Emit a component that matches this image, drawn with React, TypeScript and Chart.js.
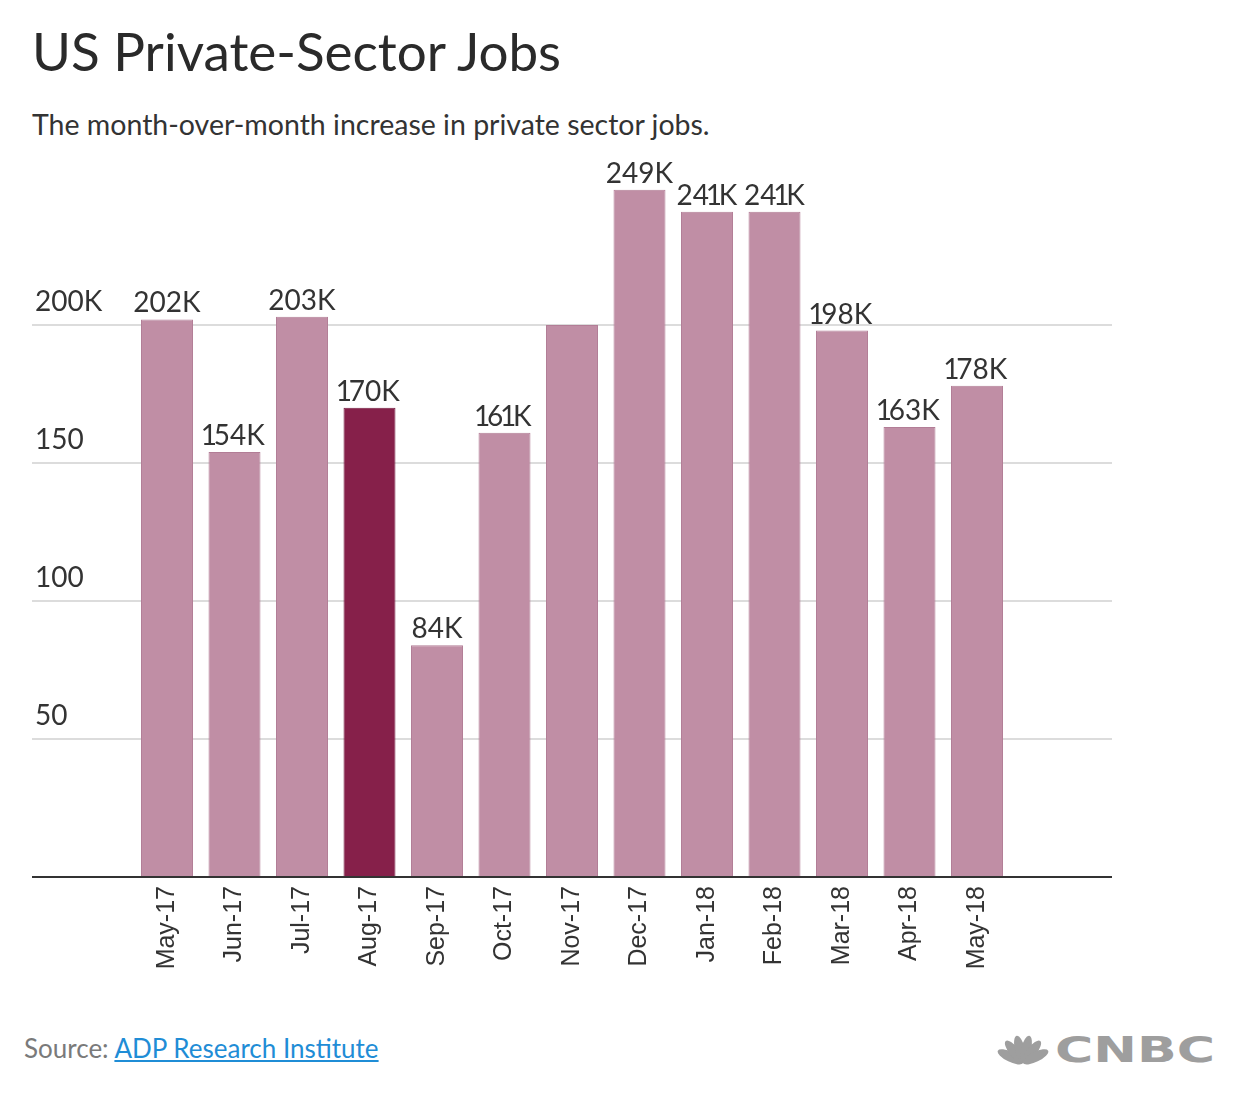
import React, { useEffect, useRef } from "react";
import { Chart, registerables } from "chart.js";

Chart.register(...registerables);

// ---- Data ----
const months = [
  "May-17", "Jun-17", "Jul-17", "Aug-17", "Sep-17", "Oct-17", "Nov-17",
  "Dec-17", "Jan-18", "Feb-18", "Mar-18", "Apr-18", "May-18",
];
const jobsK = [202, 154, 203, 170, 84, 161, 200, 249, 241, 241, 198, 163, 178];
const valueLabels = [
  "202K", "154K", "203K", "170K", "84K", "161K", "",
  "249K", "241K", "241K", "198K", "163K", "178K",
];
const highlightMonth = "Aug-17";
const yTicks = [50, 100, 150, 200];
const yTickText = ["50", "100", "150", "200K"];

// ---- Styling ----
const PAD = 2; // empty slots on each side of the bars
const BAR_COLOR = "#c08ea5";
const BAR_BORDER = "#b27d96";
const HI_COLOR = "#86204a";
const HI_BORDER = "#741a3f";
const LABEL_FONT = "Lato, 'Open Sans', sans-serif";
const ONE_SCALE = 0.6; // proportional (narrow) figure "1"

function drawLabel(ctx: CanvasRenderingContext2D, text: string, cx: number, y: number) {
  const chars = text.split("");
  const adv = chars.map((c) => {
    const w = ctx.measureText(c).width;
    return c === "1" ? w * ONE_SCALE : w;
  });
  const total = adv.reduce((a, b) => a + b, 0);
  let x = cx - total / 2;
  chars.forEach((c, i) => {
    const full = ctx.measureText(c).width;
    const off = (adv[i] - full) / 2;
    ctx.fillText(c, x + off, y);
    x += adv[i];
  });
}

const valueLabelPlugin = {
  id: "valueLabels",
  afterDatasetsDraw(chart: any) {
    const ctx = chart.ctx as CanvasRenderingContext2D;
    const meta = chart.getDatasetMeta(0);
    ctx.save();
    ctx.font = `28px ${LABEL_FONT}`;
    ctx.fillStyle = "#333333";
    ctx.textAlign = "left";
    ctx.textBaseline = "alphabetic";
    meta.data.forEach((bar: any, i: number) => {
      const mi = i - PAD;
      if (mi < 0 || mi >= months.length) return;
      const t = valueLabels[mi];
      if (!t) return;
      drawLabel(ctx, t, bar.x, bar.y - 7);
    });
    ctx.restore();
  },
};

function JobsChart() {
  const ref = useRef<HTMLCanvasElement | null>(null);
  useEffect(() => {
    if (!ref.current) return;
    const blanks = Array(PAD).fill("");
    const nulls = Array(PAD).fill(null);
    const labels = [...blanks, ...months, ...blanks];
    const data = [...nulls, ...jobsK, ...nulls];
    const bg = labels.map((l) => (l === highlightMonth ? HI_COLOR : BAR_COLOR));
    const bd = labels.map((l) => (l === highlightMonth ? HI_BORDER : BAR_BORDER));
    const chart = new Chart(ref.current, {
      type: "bar",
      data: {
        labels,
        datasets: [
          {
            data,
            backgroundColor: bg,
            borderColor: bd,
            borderWidth: 1,
            barPercentage: 0.77,
            categoryPercentage: 1,
          },
        ],
      },
      options: {
        animation: false,
        responsive: false,
        layout: { padding: { top: 37, left: 0, right: 0, bottom: 0 } },
        plugins: { legend: { display: false }, tooltip: { enabled: false } },
        scales: {
          x: {
            offset: false,
            afterFit: (s: any) => {
              s.height = 123;
              s.paddingLeft = 0;
              s.paddingRight = 0;
            },
            grid: { display: false, drawTicks: false },
            border: { display: true, color: "#333333", width: 2 },
            ticks: {
              autoSkip: false,
              minRotation: 90,
              maxRotation: 90,
              padding: 9,
              color: "#333333",
              font: { family: "'Liberation Sans', Arial, sans-serif", size: 25 },
            },
          },
          y: {
            min: 0,
            max: 250,
            afterFit: (s: any) => {
              s.width = 0;
              s.paddingTop = 0;
              s.paddingBottom = 0;
            },
            border: { display: false },
            grid: {
              drawTicks: false,
              lineWidth: 2,
              color: (c: any) =>
                yTicks.includes(c.tick?.value) ? "#dcdcdc" : "rgba(0,0,0,0)",
            },
            ticks: {
              stepSize: 50,
              mirror: true,
              padding: 3,
              labelOffset: -23,
              color: "#333333",
              font: { family: LABEL_FONT, size: 28 },
              callback: (v: any) => {
                const i = yTicks.indexOf(Number(v));
                return i >= 0 ? yTickText[i] : "";
              },
            },
          },
        },
      },
      plugins: [valueLabelPlugin],
    });
    return () => chart.destroy();
  }, []);
  return <canvas ref={ref} width={1080} height={850} />;
}

export default function App() {
  const font = LABEL_FONT;
  return (
    <div style={{ position: "relative", width: 1224, height: 1104, background: "#fff" }}>
      <div
        style={{
          position: "absolute",
          left: 24,
          top: 16,
          fontFamily: font,
          fontSize: 53,
          fontWeight: 400,
          lineHeight: "53px",
          color: "#2a2a2a",
          whiteSpace: "nowrap",
        }}
      >
        US Private-Sector Jobs
      </div>
      <div
        style={{
          position: "absolute",
          left: 24,
          top: 102,
          fontFamily: font,
          fontSize: 28.5,
          lineHeight: "28.5px",
          color: "#333",
          whiteSpace: "nowrap",
        }}
      >
        The month-over-month increase in private sector jobs.
      </div>
      <div style={{ position: "absolute", left: 24, top: 142, width: 1080, height: 850 }}>
        <JobsChart />
      </div>
      <div
        style={{
          position: "absolute",
          left: 16,
          top: 1027,
          fontFamily: font,
          fontSize: 26,
          lineHeight: "26px",
          color: "#7a7a7a",
          whiteSpace: "nowrap",
        }}
      >
        Source:{" "}
        <a href="#" style={{ color: "#1f8dd6", textDecoration: "underline" }}>
          ADP Research Institute
        </a>
      </div>
      <svg
        width={230}
        height={40}
        style={{ position: "absolute", left: 985, top: 1023 }}
      >
        <g fill="#9e9e9e">
          {[-64, -38, -13, 13, 38, 64].map((a) => (
            <ellipse key={a} cx={30} cy={18} rx={5} ry={14} transform={`rotate(${a} 30 32)`} />
          ))}
        </g>
        <text
          x={62}
          y={31}
          textLength={160}
          lengthAdjust="spacingAndGlyphs"
          fontFamily="'DejaVu Sans', sans-serif"
          fontWeight="bold"
          fontSize={35}
          fill="#9e9e9e"
        >
          CNBC
        </text>
      </svg>
    </div>
  );
}
